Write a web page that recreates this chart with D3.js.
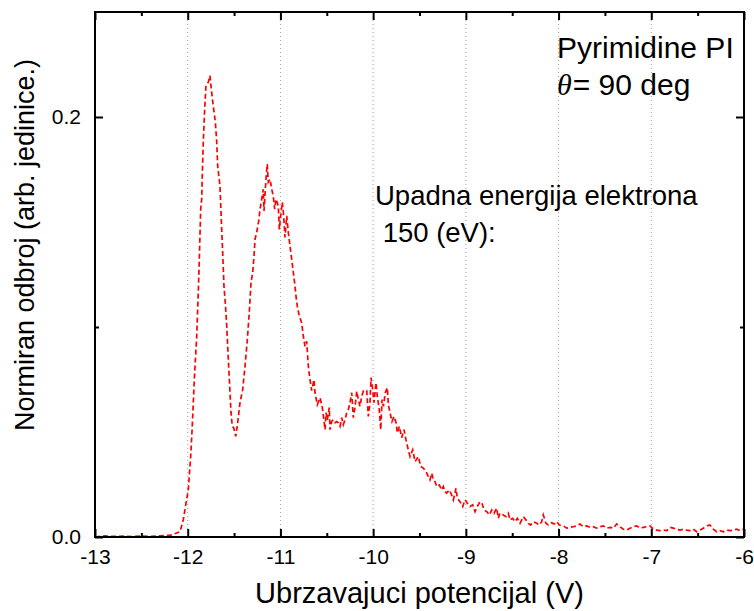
<!DOCTYPE html>
<html>
<head>
<meta charset="utf-8">
<script src="https://cdn.jsdelivr.net/npm/d3@7"></script>
<style>
  html, body { margin: 0; padding: 0; background: #fff; }
  svg { display: block; font-family: "Liberation Sans", Arial, sans-serif; }
</style>
</head>
<body>
<svg id="chart" width="754" height="611"></svg>
<script>
// Accelerating potential (V) and normalized count for the measured spectrum
const potential = [
  -13.00, -12.90, -12.80, -12.70, -12.60, -12.50, -12.40, -12.30, -12.20, -12.173,
  -12.083, -12.048, -12.018, -11.994, -11.968, -11.951, -11.929, -11.903, -11.886, -11.875,
  -11.860, -11.849, -11.843, -11.832, -11.817, -11.803, -11.778, -11.760, -11.746, -11.730,
  -11.716, -11.702, -11.687, -11.677, -11.652, -11.638, -11.623, -11.609, -11.595, -11.579,
  -11.562, -11.547, -11.533, -11.519, -11.504, -11.482, -11.461, -11.436, -11.407, -11.382,
  -11.357, -11.336, -11.317, -11.299, -11.285, -11.274, -11.256, -11.234, -11.220, -11.202,
  -11.185, -11.177, -11.156, -11.142, -11.131, -11.112, -11.094, -11.077, -11.062, -11.048,
  -11.023, -11.012, -10.997, -10.980, -10.969, -10.958, -10.951, -10.932, -10.915, -10.897,
  -10.878, -10.861, -10.843, -10.832, -10.818, -10.796, -10.771, -10.753, -10.735, -10.717,
  -10.699, -10.681, -10.663, -10.638, -10.627, -10.602, -10.573, -10.548, -10.530, -10.519,
  -10.508, -10.494, -10.473, -10.465, -10.447, -10.430, -10.411, -10.393, -10.376, -10.357,
  -10.339, -10.322, -10.303, -10.285, -10.268, -10.250, -10.231, -10.214, -10.196, -10.177,
  -10.160, -10.142, -10.123, -10.106, -10.088, -10.069, -10.052, -10.034, -10.023, -10.005,
  -9.991, -9.969, -9.955, -9.934, -9.918, -9.904, -9.890, -9.869, -9.847, -9.836,
  -9.818, -9.797, -9.775, -9.753, -9.739, -9.718, -9.692, -9.667, -9.646, -9.621,
  -9.602, -9.573, -9.548, -9.513, -9.487, -9.459, -9.430, -9.405, -9.387, -9.368,
  -9.351, -9.333, -9.314, -9.286, -9.261, -9.243, -9.225, -9.207, -9.178, -9.153,
  -9.135, -9.106, -9.092, -9.063, -9.034, -9.009, -8.984, -8.955, -8.926, -8.901,
  -8.877, -8.847, -8.826, -8.804, -8.775, -8.747, -8.721, -8.696, -8.667, -8.650,
  -8.632, -8.596, -8.567, -8.542, -8.524, -8.495, -8.470, -8.445, -8.416, -8.380,
  -8.351, -8.326, -8.301, -8.272, -8.236, -8.208, -8.182, -8.165, -8.136, -8.111,
  -8.074, -8.049, -8.020, -7.992, -7.949, -7.912, -7.877, -7.841, -7.804, -7.769,
  -7.733, -7.697, -7.661, -7.625, -7.589, -7.553, -7.517, -7.481, -7.445, -7.410,
  -7.373, -7.337, -7.302, -7.265, -7.229, -7.194, -7.157, -7.122, -7.086, -7.049,
  -7.014, -6.978, -6.942, -6.906, -6.870, -6.834, -6.798, -6.762, -6.726, -6.690,
  -6.655, -6.618, -6.582, -6.547, -6.510, -6.474, -6.439, -6.402, -6.367, -6.331,
  -6.294, -6.259, -6.223, -6.187, -6.151, -6.115, -6.079, -6.043, -6.007
];
const counts = [
  0.0000, 0.0005, 0.0003, 0.0004, 0.0002, 0.0005, 0.0003, 0.0006, 0.0008, 0.0010,
  0.0025, 0.0081, 0.0162, 0.0224, 0.0383, 0.0527, 0.0749, 0.0956, 0.1165, 0.1322,
  0.1561, 0.1609, 0.1720, 0.1881, 0.2038, 0.2149, 0.2166, 0.2197, 0.2134, 0.2072,
  0.2024, 0.1976, 0.1881, 0.1768, 0.1672, 0.1513, 0.1356, 0.1195, 0.1117, 0.1004,
  0.0845, 0.0717, 0.0592, 0.0527, 0.0520, 0.0479, 0.0544, 0.0640, 0.0702, 0.0813,
  0.0940, 0.1069, 0.1212, 0.1260, 0.1338, 0.1418, 0.1451, 0.1505, 0.1561, 0.1609,
  0.1656, 0.1553, 0.1704, 0.1776, 0.1690, 0.1704, 0.1656, 0.1624, 0.1561, 0.1609,
  0.1577, 0.1465, 0.1529, 0.1594, 0.1547, 0.1481, 0.1427, 0.1529, 0.1451, 0.1386,
  0.1322, 0.1260, 0.1195, 0.1147, 0.1099, 0.1052, 0.1021, 0.0956, 0.0908, 0.0932,
  0.0813, 0.0749, 0.0697, 0.0749, 0.0687, 0.0630, 0.0663, 0.0616, 0.0554, 0.0511,
  0.0592, 0.0558, 0.0616, 0.0511, 0.0550, 0.0558, 0.0544, 0.0550, 0.0544, 0.0527,
  0.0568, 0.0535, 0.0558, 0.0592, 0.0606, 0.0640, 0.0687, 0.0568, 0.0616, 0.0694,
  0.0654, 0.0622, 0.0670, 0.0694, 0.0687, 0.0694, 0.0574, 0.0640, 0.0759, 0.0702,
  0.0640, 0.0735, 0.0670, 0.0606, 0.0511, 0.0654, 0.0622, 0.0687, 0.0711, 0.0630,
  0.0592, 0.0550, 0.0574, 0.0544, 0.0496, 0.0527, 0.0473, 0.0511, 0.0463, 0.0415,
  0.0383, 0.0415, 0.0359, 0.0383, 0.0336, 0.0328, 0.0312, 0.0288, 0.0272, 0.0304,
  0.0272, 0.0264, 0.0240, 0.0248, 0.0224, 0.0240, 0.0216, 0.0209, 0.0224, 0.0200,
  0.0177, 0.0232, 0.0185, 0.0168, 0.0145, 0.0177, 0.0161, 0.0145, 0.0153, 0.0121,
  0.0145, 0.0168, 0.0161, 0.0129, 0.0121, 0.0105, 0.0129, 0.0113, 0.0137, 0.0089,
  0.0113, 0.0105, 0.0097, 0.0113, 0.0081, 0.0089, 0.0073, 0.0089, 0.0065, 0.0097,
  0.0081, 0.0065, 0.0057, 0.0073, 0.0065, 0.0057, 0.0073, 0.0105, 0.0065, 0.0057,
  0.0068, 0.0062, 0.0073, 0.0057, 0.0053, 0.0042, 0.0046, 0.0049, 0.0053, 0.0062,
  0.0049, 0.0053, 0.0046, 0.0049, 0.0042, 0.0049, 0.0053, 0.0042, 0.0046, 0.0042,
  0.0062, 0.0049, 0.0037, 0.0033, 0.0042, 0.0049, 0.0053, 0.0042, 0.0046, 0.0049,
  0.0053, 0.0037, 0.0033, 0.0030, 0.0033, 0.0030, 0.0046, 0.0042, 0.0037, 0.0033,
  0.0037, 0.0033, 0.0030, 0.0037, 0.0025, 0.0033, 0.0042, 0.0053, 0.0057, 0.0037,
  0.0025, 0.0030, 0.0025, 0.0033, 0.0030, 0.0033, 0.0037, 0.0030, 0.0037
];

const xTicks = [-13, -12, -11, -10, -9, -8, -7, -6];
const xMinorTicks = [-12.5, -11.5, -10.5, -9.5, -8.5, -7.5, -6.5];
const yTicks = [0.0, 0.2];
const yMinorTicks = [0.1];
const gridPotentials = [-12, -11, -10, -9, -8, -7];

const svg = d3.select("#chart");
const margin = { left: 95, right: 10, top: 12, bottom: 74 };
const W = 754, H = 611;
const iw = W - margin.left - margin.right;
const ih = H - margin.top - margin.bottom;

const x = d3.scaleLinear().domain([-13, -6]).range([margin.left, margin.left + iw]);
const y = d3.scaleLinear().domain([0, 0.25]).range([margin.top + ih, margin.top]);

// vertical dotted grid at integer potentials
svg.append("g")
  .selectAll("line")
  .data(gridPotentials)
  .join("line")
  .attr("x1", d => x(d)).attr("x2", d => x(d))
  .attr("y1", y(0.25)).attr("y2", y(0))
  .attr("stroke", "#a0a0a0")
  .attr("stroke-width", 1)
  .attr("stroke-dasharray", "1,3");

// measured curve
const pts = potential.map((v, i) => [v, counts[i]]);
const line = d3.line().x(d => x(d[0])).y(d => y(d[1]));
svg.append("path")
  .datum(pts)
  .attr("d", line)
  .attr("fill", "none")
  .attr("stroke", "#ff0000")
  .attr("stroke-width", 1.7)
  .attr("stroke-dasharray", "5,3");

// axes with inward ticks
const fmtY = d3.format(".1f");
const tickFont = g => g.selectAll("text").attr("font-size", 21).attr("fill", "#000")
  .attr("font-family", "Liberation Sans, Arial, sans-serif");

const xBottom = svg.append("g").attr("transform", `translate(0,${y(0)})`)
  .call(d3.axisBottom(x).tickValues(xTicks).tickFormat(d3.format("d")).tickSizeInner(-8).tickSizeOuter(0).tickPadding(12));
xBottom.call(tickFont);
xBottom.selectAll("text").text(d => String(d));
svg.append("g").attr("transform", `translate(0,${y(0)})`)
  .call(d3.axisBottom(x).tickValues(xMinorTicks).tickFormat("").tickSizeInner(-4).tickSizeOuter(0));

svg.append("g").attr("transform", `translate(0,${y(0.25)})`)
  .call(d3.axisTop(x).tickValues(xTicks).tickFormat("").tickSizeInner(-8).tickSizeOuter(0));
svg.append("g").attr("transform", `translate(0,${y(0.25)})`)
  .call(d3.axisTop(x).tickValues(xMinorTicks).tickFormat("").tickSizeInner(-4).tickSizeOuter(0));

const yLeft = svg.append("g").attr("transform", `translate(${x(-13)},0)`)
  .call(d3.axisLeft(y).tickValues(yTicks).tickFormat(fmtY).tickSizeInner(-8).tickSizeOuter(0).tickPadding(14));
yLeft.call(tickFont);
svg.append("g").attr("transform", `translate(${x(-13)},0)`)
  .call(d3.axisLeft(y).tickValues(yMinorTicks).tickFormat("").tickSizeInner(-4).tickSizeOuter(0));
svg.append("g").attr("transform", `translate(${x(-6)},0)`)
  .call(d3.axisRight(y).tickValues(yTicks).tickFormat("").tickSizeInner(-8).tickSizeOuter(0));
svg.append("g").attr("transform", `translate(${x(-6)},0)`)
  .call(d3.axisRight(y).tickValues(yMinorTicks).tickFormat("").tickSizeInner(-4).tickSizeOuter(0));

svg.selectAll(".domain").remove();
svg.selectAll(".tick line").attr("stroke", "#000").attr("stroke-width", 2);

// frame
svg.append("rect")
  .attr("x", x(-13)).attr("y", y(0.25))
  .attr("width", x(-6) - x(-13)).attr("height", y(0) - y(0.25))
  .attr("fill", "none").attr("stroke", "#000").attr("stroke-width", 2);

// axis titles
svg.append("text")
  .attr("x", (x(-13) + x(-6)) / 2).attr("y", 603)
  .attr("text-anchor", "middle").attr("font-size", 29)
  .text("Ubrzavajuci potencijal (V)");
svg.append("text")
  .attr("transform", `translate(34,245) rotate(-90)`)
  .attr("text-anchor", "middle").attr("font-size", 27)
  .text("Normiran odbroj (arb. jedinice.)");

// annotations
svg.append("text").attr("x", 557).attr("y", 58).attr("font-size", 30).text("Pyrimidine PI");
const th = svg.append("text").attr("x", 557).attr("y", 95).attr("font-size", 30);
th.append("tspan").attr("font-family", "Liberation Serif, Times New Roman, serif").attr("font-style", "italic").text("θ");
th.append("tspan").attr("dx", 1).text("= 90 deg");
svg.append("text").attr("x", 375).attr("y", 205).attr("font-size", 27.5).text("Upadna energija elektrona");
svg.append("text").attr("x", 375).attr("y", 242).attr("font-size", 27.5).attr("xml:space", "preserve").text(" 150 (eV):");
</script>
</body>
</html>
